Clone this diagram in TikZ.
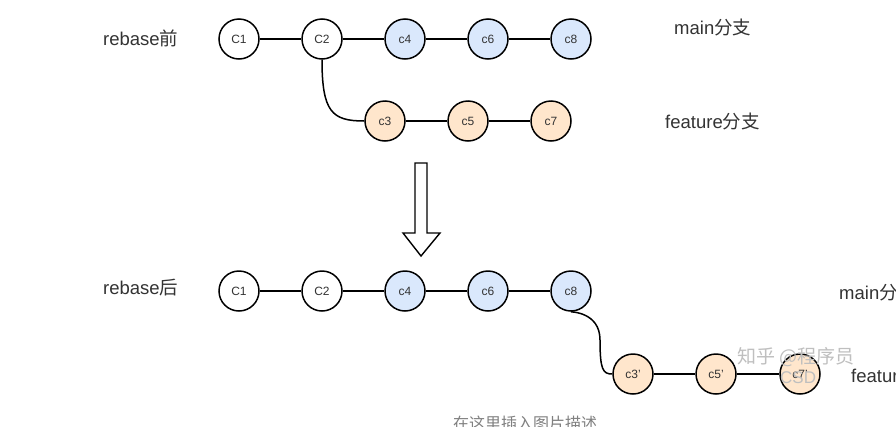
\documentclass[tikz,border=0pt]{standalone}
\usepackage{fontspec}
\setmainfont{Liberation Sans}
\newfontfamily\cjk{Noto Sans CJK SC}
\definecolor{bluefill}{HTML}{DAE8FC}
\definecolor{orangefill}{HTML}{FFE6CC}
\definecolor{txt}{HTML}{333333}
\begin{document}
\begin{tikzpicture}[x=1pt,y=-1pt,
  commit/.style={circle,draw=black,line width=1.5pt,minimum size=40pt,inner sep=0pt,font=\fontsize{12}{13}\selectfont,text=txt},
  wcommit/.style={commit,fill=white},
  bcommit/.style={commit,fill=bluefill},
  ocommit/.style={commit,fill=orangefill},
  lbl/.style={font=\fontsize{18.5}{20}\selectfont,text=txt,inner sep=0pt},
  link/.style={line width=1.5pt}]
\useasboundingbox (0,0) rectangle (896,426);
\fill[white] (0,0) rectangle (896,426);
% before
\node[lbl,anchor=west] (lb1) at (103,38) {rebase{\cjk 前}};
\node[wcommit] (a1) at (239,39) {C1};
\node[wcommit] (a2) at (322,39) {C2};
\node[bcommit] (a4) at (405,39) {c4};
\node[bcommit] (a6) at (488,39) {c6};
\node[bcommit] (a8) at (571,39) {c8};
\node[ocommit] (a3) at (385,121) {c3};
\node[ocommit] (a5) at (468,121) {c5};
\node[ocommit] (a7) at (551,121) {c7};
\node[lbl,anchor=west] (lm1) at (674,27) {main{\cjk 分支}};
\node[lbl,anchor=west] (lf1) at (665,121) {feature{\cjk 分支}};
\draw[link] (a1) -- (a2);
\draw[link] (a2) -- (a4);
\draw[link] (a4) -- (a6);
\draw[link] (a6) -- (a8);
\draw[link] (a3) -- (a5);
\draw[link] (a5) -- (a7);
\draw[link] (a2.south) .. controls (322,112) and (332,121) .. (a3.west);
% arrow
\draw[line width=1.4pt,fill=white] (415,163) -- (427,163) -- (427,233) -- (440,233) -- (421,256) -- (403,233) -- (415,233) -- cycle;
% after
\node[lbl,anchor=west] (lb2) at (103,288) {rebase{\cjk 后}};
\node[wcommit] (b1) at (239,291) {C1};
\node[wcommit] (b2) at (322,291) {C2};
\node[bcommit] (b4) at (405,291) {c4};
\node[bcommit] (b6) at (488,291) {c6};
\node[bcommit] (b8) at (571,291) {c8};
\node[ocommit] (b3) at (633,374) {c3'};
\node[ocommit] (b5) at (716,374) {c5'};
\node[ocommit] (b7) at (800,374) {c7'};
\node[lbl,anchor=west] (lm2) at (839,292) {main{\cjk 分支}};
\node[lbl,anchor=west] (lf2) at (851,375) {feature{\cjk 分支}};
\draw[link] (b1) -- (b2);
\draw[link] (b2) -- (b4);
\draw[link] (b4) -- (b6);
\draw[link] (b6) -- (b8);
\draw[link] (b3) -- (b5);
\draw[link] (b5) -- (b7);
\draw[link] (b8.south) .. controls (571,312) and (600,312) .. (600,340) .. controls (600,370) and (603,374) .. (b3.west);
% watermark
\node[font=\cjk\fontsize{19}{21}\selectfont,text=black!25,anchor=west,inner sep=0pt] (wm) at (737,357) {知乎 @程序员};
\node[font=\fontsize{17}{19}\selectfont,text=black!25,anchor=west,inner sep=0pt] (wm2) at (780,378) {CSD};
% caption
\node[font=\cjk\fontsize{16}{18}\selectfont,text=black!50,inner sep=0pt] (cap) at (525,423) {在这里插入图片描述};
\end{tikzpicture}
\end{document}
